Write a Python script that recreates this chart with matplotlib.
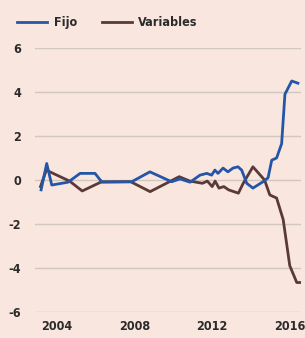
import matplotlib
matplotlib.use("Agg")
import matplotlib.pyplot as plt
from matplotlib import font_manager

# Fijo (blue)
fijo_x = [2003.18, 2003.47, 2003.73, 2004.57, 2005.19, 2005.96, 2006.32, 2007.85,
          2008.79, 2009.91, 2010.34, 2010.86, 2011.37, 2011.72, 2011.97, 2012.14,
          2012.30, 2012.56, 2012.81, 2013.07, 2013.33, 2013.52, 2013.78, 2014.10,
          2014.62, 2014.88, 2015.07, 2015.32, 2015.58, 2015.75, 2016.10, 2016.42]
fijo_y = [-0.45, 0.75, -0.23, -0.10, 0.30, 0.30, -0.10, -0.08,
          0.37, -0.08, 0.05, -0.10, 0.22, 0.30, 0.22, 0.45,
          0.30, 0.54, 0.37, 0.54, 0.60, 0.45, -0.15, -0.37,
          -0.08, 0.10, 0.90, 1.00, 1.65, 3.90, 4.50, 4.40]

# Variables (brown)
var_x = [2003.15, 2003.45, 2003.80, 2004.65, 2005.30, 2006.30, 2007.80, 2008.80,
         2010.30, 2010.85, 2011.50, 2011.75, 2012.00, 2012.15, 2012.35, 2012.60,
         2012.85, 2013.35, 2013.60, 2014.10, 2014.70, 2014.97, 2015.32, 2015.66,
         2016.00, 2016.36, 2016.53]
var_y = [-0.30, 0.45, 0.30, -0.05, -0.50, -0.08, -0.08, -0.53,
         0.15, -0.05, -0.15, -0.05, -0.30, -0.05, -0.37, -0.30,
         -0.45, -0.60, -0.15, 0.60, 0.00, -0.68, -0.82, -1.80,
         -3.90, -4.66, -4.66]

xticks = [2004, 2008, 2012, 2016]
yticks = [-6, -4, -2, 0, 2, 4, 6]

bg = "#f9e6de"
blue = "#2456a8"
brown = "#5a3a36"

# condensed bold face if one is around
names = {f.name for f in font_manager.fontManager.ttflist}
if "Liberation Sans Narrow" in names:
    font = ["Liberation Sans Narrow", "DejaVu Sans"]
    stretch = "normal"
else:
    font = ["DejaVu Sans"]
    stretch = "condensed"

fig = plt.figure(figsize=(3.05, 3.38), dpi=100, facecolor=bg)
ax = fig.add_axes([0.115, 0.077, 0.872, 0.781])
ax.set_facecolor(bg)

for y in yticks:
    ax.axhline(y, color="#d2c6c0", lw=1.0, zorder=1)

ax.plot(var_x, var_y, color=brown, lw=2.0, zorder=3)
ax.plot(fijo_x, fijo_y, color=blue, lw=2.0, zorder=4)

ax.set_xlim(2002.87, 2016.58)
ax.set_ylim(-6, 6)
ax.set_xticks(xticks)
ax.set_yticks(yticks)
ax.set_yticklabels([str(v) for v in yticks])
for s in ax.spines.values():
    s.set_visible(False)
ax.tick_params(length=0, pad=10, labelsize=9)
ax.tick_params(axis="x", pad=6)
for lab in ax.get_xticklabels() + ax.get_yticklabels():
    lab.set_family(font)
    lab.set_stretch(stretch)
    lab.set_weight("bold")
    lab.set_color("#2b2b2b")

# legend at top
h_f, = ax.plot([], [], color=blue, lw=2.0)
h_v, = ax.plot([], [], color=brown, lw=2.0)
leg = fig.legend([h_f, h_v], ["Fijo", "Variables"], loc="upper left",
                 bbox_to_anchor=(0.02, 0.985), ncol=2, frameon=False,
                 handlelength=2.4, handletextpad=0.5, columnspacing=2.0,
                 prop={"family": font, "weight": "bold", "size": 9,
                       "stretch": stretch})
for t in leg.get_texts():
    t.set_color("#2b2b2b")

fig.savefig("out.png", dpi=100, facecolor=bg)
